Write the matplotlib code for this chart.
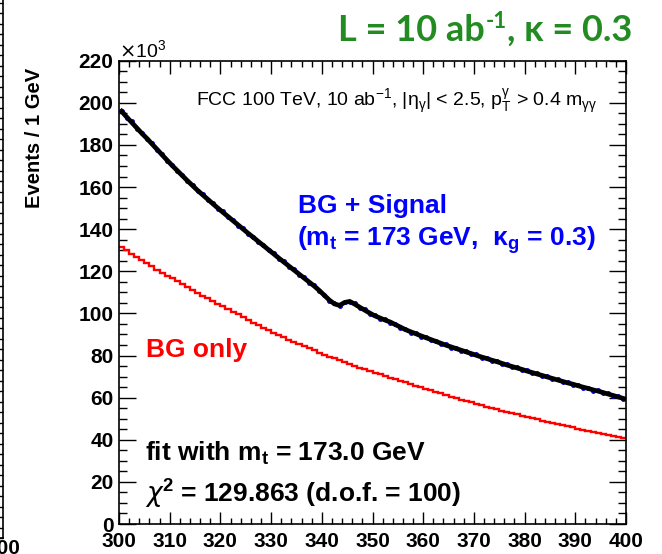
import numpy as np
import matplotlib
matplotlib.use("Agg")
import matplotlib.pyplot as plt
from matplotlib.ticker import MultipleLocator

plt.rcParams['font.family'] = ['Liberation Sans', 'DejaVu Sans']

# m_gammagamma bins, 300-400 GeV, 1 GeV wide (values in units of 10^3 events)
edges = np.arange(300, 401)
centers = edges[:-1] + 0.5

bg_only = [
    131.5, 129.9, 128.3, 126.8, 125.3, 123.8, 122.3, 120.8, 119.4, 118.0,
    116.6, 115.2, 113.8, 112.5, 111.1, 109.8, 108.5, 107.2, 105.9, 104.7,
    103.5, 102.1, 100.8, 99.5, 98.1, 96.8, 95.6, 94.4, 93.2, 92.0,
    90.9, 89.8, 88.7, 87.6, 86.5, 85.5, 84.5, 83.4, 82.4, 81.4,
    80.4, 79.5, 78.6, 77.7, 76.8, 75.9, 75.1, 74.3, 73.5, 72.7,
    71.9, 71.1, 70.3, 69.5, 68.8, 68.0, 67.2, 66.5, 65.7, 65.0,
    64.2, 63.5, 62.8, 62.0, 61.3, 60.5, 59.8, 59.1, 58.4, 57.7,
    57.0, 56.4, 55.7, 55.1, 54.4, 53.8, 53.2, 52.6, 52.0, 51.4,
    50.8, 50.2, 49.7, 49.1, 48.6, 48.1, 47.5, 47.0, 46.4, 45.9,
    45.3, 44.8, 44.3, 43.8, 43.2, 42.7, 42.2, 41.7, 41.2, 40.7,
]

fit_curve = [
    196.0, 193.3, 190.7, 188.1, 185.5, 183.1, 180.5, 177.9, 175.3, 172.7,
    170.2, 167.8, 165.4, 163.0, 160.7, 158.4, 156.3, 154.2, 152.1, 150.0,
    148.0, 146.0, 144.0, 142.0, 140.0, 138.0, 136.1, 134.1, 132.2, 130.2,
    128.3, 126.3, 124.4, 122.5, 120.6, 118.7, 116.8, 114.9, 113.0, 110.9,
    108.6, 106.3, 104.5, 103.8, 105.2, 105.7, 104.4, 102.9, 101.5, 100.1,
    98.8, 97.8, 96.8, 95.9, 94.7, 93.5, 92.3, 91.3, 90.4, 89.4,
    88.5, 87.6, 86.7, 85.8, 84.9, 84.1, 83.3, 82.5, 81.7, 80.9,
    80.1, 79.3, 78.6, 77.8, 77.1, 76.3, 75.5, 74.8, 74.1, 73.4,
    72.6, 71.9, 71.2, 70.5, 69.8, 69.1, 68.4, 67.7, 67.0, 66.4,
    65.7, 65.0, 64.4, 63.7, 63.1, 62.4, 61.7, 61.0, 60.3, 59.6,
]

pseudo_data = [
    196.3, 193.0, 191.2, 187.8, 185.9, 182.7, 180.9, 177.5, 175.6, 172.4,
    170.6, 167.5, 165.8, 162.7, 161.1, 158.0, 156.7, 153.9, 152.5, 149.7,
    148.4, 145.6, 144.3, 141.7, 140.4, 137.6, 136.5, 133.8, 132.6, 129.9,
    128.7, 126.0, 124.8, 122.1, 121.0, 118.3, 117.2, 114.5, 113.4, 110.5,
    108.9, 105.9, 104.8, 103.5, 105.6, 105.3, 104.8, 102.5, 101.9, 99.7,
    99.2, 97.4, 97.2, 95.5, 95.1, 93.1, 92.7, 90.9, 90.8, 89.0,
    88.9, 87.2, 87.1, 85.4, 85.3, 83.7, 83.7, 82.1, 82.1, 80.5,
    80.5, 78.9, 79.0, 77.4, 77.5, 75.9, 75.9, 74.4, 74.5, 73.0,
    73.0, 71.5, 71.6, 70.1, 70.2, 68.7, 68.8, 67.3, 67.4, 66.0,
    66.1, 64.6, 64.8, 63.3, 63.5, 62.0, 62.1, 60.6, 60.7, 59.2,
]

x_ticks = np.arange(300, 401, 10)
y_ticks = np.arange(0, 221, 20)

W, H = 662, 554
fig = plt.figure(figsize=(W / 100, H / 100), dpi=100)


def fx(px):
    return px / W


def fy(py):
    return 1 - py / H


# piece of the neighbouring panel, cut off at the left edge
axl = fig.add_axes([-0.9, fy(538), 0.9045, 538 / H])
axl.set_xlim(300, 400)
axl.set_ylim(0, 538)
axl.set_xticks([400])
axl.set_xticklabels(['400'], fontsize=15, fontweight='bold')
axl.set_yticks([])
axl.yaxis.set_minor_locator(MultipleLocator(10.5))
axl.tick_params(axis='y', which='minor', right=True, left=False,
                direction='in', length=4, width=1)
axl.tick_params(axis='x', direction='in', length=0, pad=1)
for s in ['top', 'left']:
    axl.spines[s].set_visible(False)
axl.spines['right'].set_linewidth(1.2)
axl.spines['bottom'].set_linewidth(1.2)

ax = fig.add_axes([fx(119), fy(524), 507 / W, (524 - 60.7) / H])

ax.plot(centers, pseudo_data, 'o', color='blue', markersize=2.5, zorder=2)
ax.plot(centers, fit_curve, '-', color='black', lw=3.4, zorder=3)
ax.stairs(bg_only, edges, baseline=None, color='red', lw=1.7, zorder=2)

ax.set_xlim(300, 400)
ax.set_ylim(0, 220)
ax.set_xticks(x_ticks)
ax.set_yticks(y_ticks)
ax.set_xticklabels([str(v) for v in x_ticks], fontsize=15, fontweight='bold')
ax.set_yticklabels([str(v) for v in y_ticks], fontsize=15, fontweight='bold')
ax.xaxis.set_minor_locator(MultipleLocator(2))
ax.yaxis.set_minor_locator(MultipleLocator(5))
ax.tick_params(axis='y', which='major', direction='in', length=12, width=1,
               left=True, right=True, pad=4)
ax.tick_params(axis='y', which='minor', direction='in', length=6, width=1,
               left=True, right=True)
ax.tick_params(axis='x', which='major', direction='in', length=9, width=1,
               bottom=True, top=True, pad=6)
ax.tick_params(axis='x', which='minor', direction='in', length=4.5, width=1,
               bottom=True, top=True)
for s in ax.spines.values():
    s.set_linewidth(1.2)

fig.text(fx(119), fy(58), r'$\times$10$^\mathregular{3}$', fontsize=14,
         ha='left', va='baseline')
fig.text(fx(34), fy(138), 'Events / 1 GeV', rotation=90, fontsize=14.5,
         fontweight='bold', ha='center', va='center')

fig.text(fx(597), fy(107),
         r'FCC 100 TeV, 10 ab$^\mathregular{-1}$, |η$_\mathregular{γ}$| < 2.5, '
         r'p$_\mathregular{T}^\mathregular{γ}$ > 0.4 m$_\mathregular{γγ}$',
         fontsize=14, ha='right', va='baseline')

fig.text(fx(298), fy(212.7), 'BG + Signal', fontsize=19, fontweight='bold',
         color='blue', va='baseline')
fig.text(fx(297), fy(245),
         r'(m$_\mathregular{t}$ = 173 GeV,  κ$_\mathregular{g}$ = 0.3)',
         fontsize=19, fontweight='bold', color='blue', va='baseline')
fig.text(fx(146), fy(356.7), 'BG only', fontsize=19, fontweight='bold',
         color='red', va='baseline')
fig.text(fx(145), fy(460.7), r'fit with m$_\mathregular{t}$ = 173.0 GeV',
         fontsize=19, fontweight='bold', va='baseline')
fig.text(fx(145), fy(501.7), r'$\chi$$^\mathregular{2}$ = 129.863 (d.o.f. = 100)',
         fontsize=19, fontweight='bold', va='baseline')

# green slide title, built from pieces so the superscript keeps a hyphen
green = '#228B22'
title_font = dict(fontsize=26, fontweight='bold', color=green,
                  family=['Lato', 'DejaVu Sans'], va='baseline')
renderer = fig.canvas.get_renderer()
x0, base = 352, 41
t1 = fig.text(fx(x0), fy(base), 'L = 10 ab', **title_font)
e1 = t1.get_window_extent(renderer)
t2 = fig.text(e1.x1 / W + fx(1), fy(base - 13), '-1',
              **dict(title_font, fontsize=16))
e2 = t2.get_window_extent(renderer)
t3 = fig.text(e2.x1 / W, fy(base), ', κ = 0.3', **title_font)
e3 = t3.get_window_extent(renderer)
shift = (632 - e3.x1) / W
for t in (t1, t2, t3):
    px, py = t.get_position()
    t.set_position((px + shift, py))

fig.savefig('out.png', dpi=100)
